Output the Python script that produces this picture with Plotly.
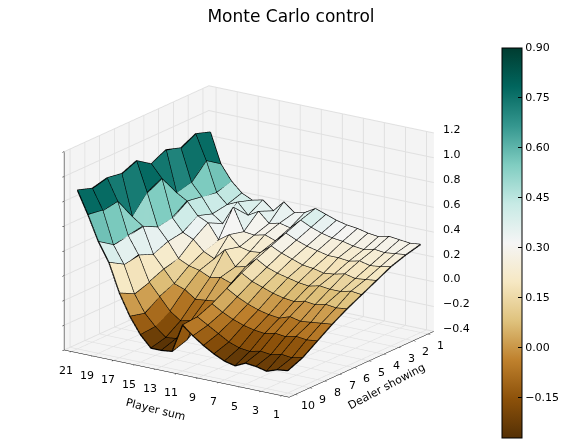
import plotly.graph_objects as go

# value estimates, rows = player sum 1..21, columns = dealer showing 1..10
player_sum = list(range(1, 22))
dealer_showing = list(range(1, 11))
x_ticks = list(range(1, 22, 2))
z_ticks = [-0.4, -0.2, 0.0, 0.2, 0.4, 0.6, 0.8, 1.0, 1.2]
cbar_ticks = [-0.15, 0.0, 0.15, 0.30, 0.45, 0.60, 0.75, 0.90]

values = [
    [0.31, 0.28, 0.24, 0.18, 0.12, 0.06, -0.01, -0.09, -0.17, -0.22],   # 1
    [0.30, 0.27, 0.22, 0.17, 0.13, 0.05, -0.02, -0.10, -0.19, -0.23],   # 2
    [0.31, 0.26, 0.21, 0.16, 0.11, 0.06, -0.03, -0.09, -0.18, -0.26],   # 3
    [0.32, 0.27, 0.23, 0.18, 0.11, 0.04, -0.04, -0.11, -0.20, -0.24],   # 4
    [0.30, 0.25, 0.21, 0.16, 0.12, 0.05, -0.02, -0.10, -0.19, -0.23],   # 5
    [0.31, 0.26, 0.22, 0.15, 0.10, 0.03, -0.05, -0.12, -0.21, -0.27],   # 6
    [0.33, 0.28, 0.22, 0.17, 0.11, 0.04, -0.04, -0.11, -0.20, -0.25],   # 7
    [0.34, 0.29, 0.24, 0.18, 0.13, 0.06, -0.02, -0.09, -0.17, -0.21],   # 8
    [0.36, 0.31, 0.26, 0.21, 0.15, 0.09, 0.01, -0.06, -0.12, -0.16],    # 9
    [0.39, 0.34, 0.29, 0.24, 0.18, 0.12, 0.05, -0.02, -0.07, -0.10],    # 10
    [0.42, 0.38, 0.33, 0.28, 0.23, 0.17, 0.10, 0.03, -0.02, -0.03],     # 11
    [0.37, 0.30, 0.25, 0.21, 0.15, 0.07, -0.02, -0.13, -0.22, -0.26],   # 12
    [0.35, 0.32, 0.28, 0.20, 0.13, 0.10, -0.03, -0.14, -0.23, -0.27],   # 13
    [0.42, 0.30, 0.26, 0.22, 0.25, 0.08, -0.04, -0.16, -0.24, -0.27],   # 14
    [0.33, 0.38, 0.27, 0.30, 0.16, 0.12, 0.02, -0.10, -0.17, -0.18],    # 15
    [0.40, 0.33, 0.45, 0.24, 0.20, 0.14, 0.05, 0.00, -0.08, -0.05],     # 16
    [0.38, 0.42, 0.30, 0.36, 0.28, 0.18, 0.15, 0.10, 0.06, 0.12],       # 17
    [0.42, 0.38, 0.36, 0.40, 0.32, 0.30, 0.25, 0.30, 0.28, 0.35],       # 18
    [0.50, 0.46, 0.48, 0.50, 0.42, 0.40, 0.46, 0.44, 0.42, 0.50],       # 19
    [0.62, 0.70, 0.58, 0.55, 0.72, 0.66, 0.52, 0.70, 0.68, 0.70],       # 20
    [0.86, 0.90, 0.84, 0.88, 0.82, 0.90, 0.85, 0.87, 0.84, 0.88],       # 21
]

n_p = len(player_sum)
n_d = len(dealer_showing)
x_range = [0.3, 21.7]
y_range = [0.6, 10.4]
z_range = [-0.4, 1.2]

# vertices of the grid
vx, vy, vz = [], [], []
for i in range(n_p):
    for j in range(n_d):
        vx.append(player_sum[i])
        vy.append(dealer_showing[j])
        vz.append(values[i][j])

# two triangles per cell, coloured by the mean height of the cell
ii, jj, kk, cell = [], [], [], []
for i in range(n_p - 1):
    for j in range(n_d - 1):
        a = i * n_d + j
        b = a + 1
        c = a + n_d
        d = c + 1
        mean = (values[i][j] + values[i][j + 1] + values[i + 1][j] + values[i + 1][j + 1]) / 4
        ii += [a, b]
        jj += [b, d]
        kk += [c, c]
        cell += [mean, mean]

faces = go.Mesh3d(
    x=vx, y=vy, z=vz, i=ii, j=jj, k=kk,
    intensity=cell, intensitymode='cell',
    colorscale='BrBG', cmin=-0.27, cmax=0.90,
    flatshading=True,
    lighting=dict(ambient=1.0, diffuse=0.12, specular=0.0, roughness=1.0, fresnel=0.0),
    lightposition=dict(x=-1000, y=2000, z=3000),
    hoverinfo='skip',
    colorbar=dict(
        x=0.892, xanchor='left', y=0.473, yanchor='middle',
        len=390 / 445, lenmode='fraction', thickness=20, ypad=0,
        outlinecolor='black', outlinewidth=1,
        tickvals=cbar_ticks,
        tickformat='.2f', ticks='inside', ticklen=4, tickcolor='black',
        tickfont=dict(family='DejaVu Sans', size=11, color='black'),
    ),
)

# black facet edges
ex, ey, ez = [], [], []
for i in range(n_p):
    for j in range(n_d):
        ex.append(player_sum[i]); ey.append(dealer_showing[j]); ez.append(values[i][j])
    ex.append(None); ey.append(None); ez.append(None)
for j in range(n_d):
    for i in range(n_p):
        ex.append(player_sum[i]); ey.append(dealer_showing[j]); ez.append(values[i][j])
    ex.append(None); ey.append(None); ez.append(None)

edges = go.Scatter3d(x=ex, y=ey, z=ez, mode='lines',
                     line=dict(color='black', width=2.5),
                     hoverinfo='skip', showlegend=False)

fig = go.Figure([faces, edges])

axis_style = dict(
    backgroundcolor='#f4f4f4', showbackground=True,
    gridcolor='#e0e0e0', zeroline=False,
    showline=True, linecolor='black', linewidth=1,
    ticks='outside', ticklen=3, tickcolor='black',
    showticklabels=False, title=dict(text=''),
    showspikes=False,
)

tick_font = dict(family='DejaVu Sans', size=11, color='black')


def minus(v, fmt):
    s = fmt % abs(v)
    return '\u2212' + s if v < 0 else s


# upright tick labels, placed like the matplotlib 3D axes
labels = []
for v in x_ticks:
    labels.append(dict(x=v, y=y_range[1], z=z_range[0], text=str(v), showarrow=False,
                       xshift=-6, yshift=-19, font=tick_font))
for v in dealer_showing:
    labels.append(dict(x=x_range[0], y=v, z=z_range[0], text=str(v), showarrow=False,
                       xshift=12, yshift=-11, font=tick_font))
for v in z_ticks:
    labels.append(dict(x=x_range[0], y=y_range[0], z=v, text=minus(v, '%.1f'), showarrow=False,
                       xanchor='left', xshift=6, yshift=3, font=tick_font))
labels.append(dict(x=11, y=y_range[1], z=z_range[0], text='Player sum', showarrow=False,
                   textangle=14, xshift=-22, yshift=-36, font=tick_font))
labels.append(dict(x=x_range[0], y=5.5, z=z_range[0], text='Dealer showing', showarrow=False,
                   textangle=-28, xshift=24, yshift=-22, font=tick_font))

fig.update_layout(
    width=566, height=445,
    paper_bgcolor='white',
    margin=dict(l=0, r=0, t=0, b=0),
    title=dict(text='Monte Carlo control', x=0.50, xanchor='center', y=0.995, yanchor='top',
               font=dict(family='DejaVu Sans', size=17, color='black')),
    font=dict(family='DejaVu Sans', size=11, color='black'),
    scene=dict(
        domain=dict(x=[0.01, 0.88], y=[0.015, 0.935]),
        xaxis=dict(axis_style, tickvals=x_ticks, range=x_range),
        yaxis=dict(axis_style, tickvals=dealer_showing, range=y_range),
        zaxis=dict(axis_style, tickvals=z_ticks, range=z_range),
        aspectmode='manual', aspectratio=dict(x=1.33, y=1.26, z=1.02),
        camera=dict(eye=dict(x=-0.76, y=1.12, z=0.44),
                    center=dict(x=0, y=0, z=0),
                    projection=dict(type='orthographic')),
        annotations=labels,
    ),
)

fig.write_html("out.html")
